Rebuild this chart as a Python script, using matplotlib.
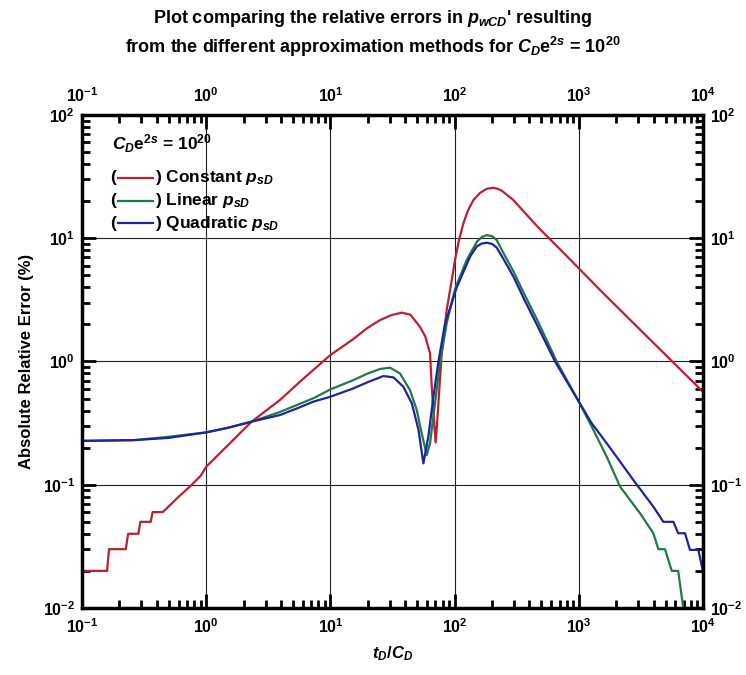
import numpy as np
import matplotlib
matplotlib.use("Agg")
import matplotlib.pyplot as plt
from matplotlib.ticker import LogLocator, FuncFormatter, NullFormatter

plt.rcParams["font.family"] = ["Liberation Sans", "DejaVu Sans"]
plt.rcParams["font.weight"] = "bold"
plt.rcParams["axes.labelweight"] = "bold"
plt.rcParams["mathtext.fontset"] = "custom"
plt.rcParams["mathtext.rm"] = "Liberation Sans:bold"
plt.rcParams["mathtext.it"] = "Liberation Sans:bold:italic"
plt.rcParams["mathtext.bf"] = "Liberation Sans:bold"

# -------------------------------------------------
# Data
# -------------------------------------------------
x_const = [0.1, 0.159, 0.165, 0.225, 0.235, 0.284, 0.295, 0.357, 0.37, 0.447,
           0.6, 0.75, 0.9, 1.0, 1.5, 2.32, 3.93, 6.0, 10, 15, 20, 25.1, 31,
           37.5, 44, 52.6, 58, 63.4, 65.4, 68, 70.3, 72, 74, 78.7, 86.3, 94.8,
           100.7, 108, 117.5, 128, 141.5, 160, 181, 205, 222, 240, 297, 350, 404,
           488, 700, 1000, 1483, 3000, 10000]
y_const = [0.02, 0.02, 0.03, 0.03, 0.04, 0.04, 0.05, 0.05, 0.06, 0.06,
           0.08, 0.098, 0.118, 0.14, 0.21, 0.325, 0.488, 0.72, 1.13, 1.5, 1.88, 2.17, 2.38,
           2.49, 2.4, 1.91, 1.6, 1.16, 0.625, 0.35, 0.22, 0.3, 0.458, 1.16, 2.62, 4.58,
           6.66, 9.5, 13.2, 16.8, 20.4, 23.3, 25.2, 25.7, 25.2, 24.3, 20.4, 17.0, 14.5,
           11.8, 8.2, 5.7, 3.8, 1.88, 0.567]

x_lin = [0.1, 0.26, 0.5, 1.0, 1.5, 2.32, 3.93, 7.28, 10, 15, 20, 25.1, 30.2,
         36.3, 43.7, 49.5, 54.3, 59.6, 63.4, 69.5, 76.2, 86.3, 101, 125, 151,
         165, 181, 200, 218, 247, 300, 360, 470, 663, 1000, 1270, 1676, 2150,
         3110, 3980, 4370, 4940, 5600, 6310, 6930, 10000]
y_lin = [0.227, 0.23, 0.245, 0.266, 0.29, 0.325, 0.39, 0.503, 0.594, 0.7, 0.8, 0.87, 0.891,
         0.80, 0.587, 0.405, 0.261, 0.174, 0.217, 0.458, 0.966, 2.04, 3.9, 6.66, 9.37,
         10.2, 10.6, 10.4, 9.68, 7.6, 5.3, 3.6, 2.1, 1.0, 0.472, 0.296, 0.169, 0.0964,
         0.0587, 0.0404, 0.03, 0.03, 0.02, 0.02, 0.01, 0.01]

x_quad = [0.1, 0.26, 0.5, 1.0, 1.5, 2.32, 3.93, 5.5, 7.28, 10, 15, 20, 26.7, 32.2,
          38.6, 45.2, 51.2, 56, 61.4, 67.5, 74, 83.8, 104, 133, 151, 165, 181,
          200, 218, 247, 300, 360, 470, 643, 1000, 1270, 1676, 2150, 2750, 3980,
          4790, 5770, 6310, 7160, 7850, 9170, 10000]
y_quad = [0.227, 0.23, 0.24, 0.266, 0.29, 0.325, 0.368, 0.42, 0.472, 0.518, 0.6, 0.68, 0.762, 0.743,
          0.625, 0.458, 0.278, 0.149, 0.245, 0.518, 0.996, 2.04, 4.0, 7.08, 8.6, 9.05, 9.2,
          9.0, 8.4, 6.8, 4.8, 3.25, 1.9, 1.0, 0.472, 0.315, 0.217, 0.154, 0.109, 0.0664,
          0.05, 0.05, 0.0404, 0.0404, 0.0296, 0.0296, 0.0197]

series_labels = ["Constant", "Linear", "Quadratic"]
series_colors = ["#BE1E2D", "#1E7B45", "#1C24A0"]

# -------------------------------------------------
# Figure
# -------------------------------------------------
fig = plt.figure(figsize=(7.46, 6.75), dpi=100)
ax = fig.add_axes([0.110, 0.0993, 0.8324, 0.7303])

for xs, ys, c in zip([x_const, x_lin, x_quad], [y_const, y_lin, y_quad], series_colors):
    ax.plot(xs, ys, color=c, lw=1.6)

ax.set_xscale("log")
ax.set_yscale("log")
ax.set_xlim(0.1, 1e4)
ax.set_ylim(0.01, 100)

fmt = FuncFormatter(lambda v, p: r"$10^{%d}$" % int(round(np.log10(v))))
for axis in [ax.xaxis, ax.yaxis]:
    axis.set_major_locator(LogLocator(base=10, numticks=20))
    axis.set_minor_locator(LogLocator(base=10, subs=np.arange(2, 10), numticks=20))
    axis.set_major_formatter(fmt)
    axis.set_minor_formatter(NullFormatter())

ax.tick_params(which="both", direction="in", top=True, right=True,
               labeltop=True, labelright=True, width=2)
ax.tick_params(which="major", length=10, labelsize=11.5, pad=7)
ax.tick_params(axis="y", which="major", pad=5)
ax.tick_params(which="minor", length=6)
for s in ax.spines.values():
    s.set_linewidth(2.5)

ax.grid(True, which="major", color="#222222", lw=0.8)

ax.set_xlabel(r"$t_D/C_D$", fontsize=12, labelpad=6)
ax.set_ylabel("Absolute Relative Error (%)", fontsize=12, labelpad=6)

fig.text(0.5, 0.972, r"Plot comparing the relative errors in $p_{wCD}$' resulting",
         ha="center", va="center", fontsize=13)
fig.text(0.5, 0.931, r"from the different approximation methods for $C_D$e$^{2s}$ = 10$^{20}$",
         ha="center", va="center", fontsize=13)

# legend block (drawn inside the axes)
ax.text(0.048, 0.941, r"$C_D$e$^{2s}$ = 10$^{20}$", transform=ax.transAxes,
        fontsize=12.5, va="center", ha="left")
row_y = [0.873, 0.826, 0.780]
for lab, c, yy in zip(series_labels, series_colors, row_y):
    ax.text(0.045, yy, "(", transform=ax.transAxes, fontsize=12.5, va="center", ha="left")
    ax.plot([0.058, 0.114], [yy, yy], color=c, lw=1.6, transform=ax.transAxes)
    ax.text(0.117, yy, ") " + lab + r" $p_{sD}$", transform=ax.transAxes,
            fontsize=12.5, va="center", ha="left")

fig.savefig("out.png", dpi=100)
